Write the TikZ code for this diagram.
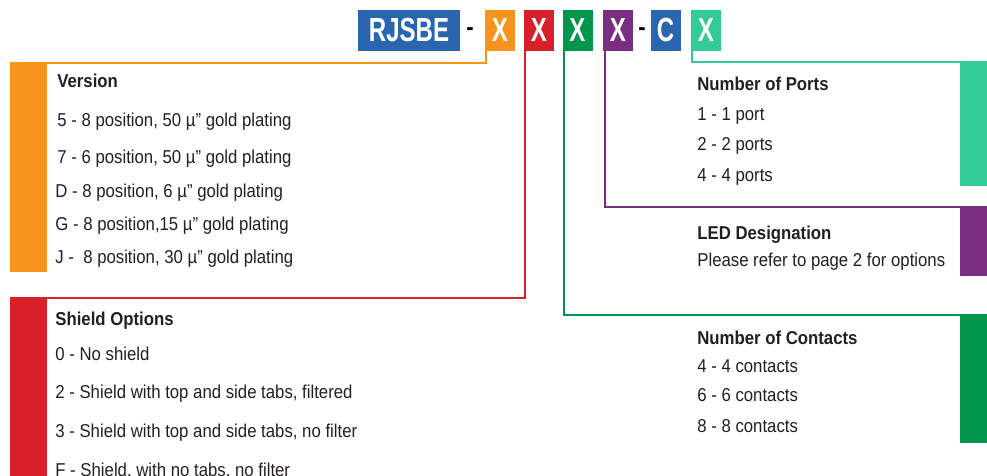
\documentclass[tikz,border=0pt]{standalone}
\usepackage{fontspec}
\setmainfont{Liberation Sans}[FakeStretch=0.9]
\newfontfamily\codefont{Liberation Sans}[FakeStretch=0.72]
\definecolor{cBlue}{HTML}{2A66B0}
\definecolor{cOrange}{HTML}{F7941E}
\definecolor{cRed}{HTML}{D7202A}
\definecolor{cGreen}{HTML}{00964B}
\definecolor{cPurple}{HTML}{7A2E82}
\definecolor{cTeal}{HTML}{33CC99}
\definecolor{cText}{HTML}{231F20}
\begin{document}
\begin{tikzpicture}[
        x=0.02cm, y=-0.02cm,
        codebox/.style={fill=#1, text=white, inner sep=0pt, minimum width=0.6cm, minimum height=0.82cm, font=\codefont\bfseries\fontsize{19}{19}\selectfont},
        dashmark/.style={inner sep=0pt, font=\bfseries\fontsize{14}{14}\selectfont},
        optbar/.style={fill=#1, draw=none, inner sep=0pt},
        legline/.style={draw=#1, line width=1.2pt},
        heading/.style={anchor=base west, inner sep=0pt, text=cText, font=\bfseries\fontsize{10.6}{12}\selectfont},
        entry/.style={anchor=base west, inner sep=0pt, text=cText, font=\fontsize{10.6}{12}\selectfont},
    ]
        \useasboundingbox (0,0) rectangle (987,476);

        % Part number
        \node[codebox=cBlue, minimum width=2.04cm] (base) at (409,30.5) {RJSBE};
        \node[dashmark] (dasha) at (470,32) {-};
        \node[codebox=cOrange] (xver) at (500,30.5) {X};
        \node[codebox=cRed] (xshield) at (539,30.5) {X};
        \node[codebox=cGreen] (xcont) at (577.5,30.5) {X};
        \node[codebox=cPurple] (xled) at (618,30.5) {X};
        \node[dashmark] (dashb) at (642,32) {-};
        \node[codebox=cBlue] (cport) at (665.5,30.5) {C};
        \node[codebox=cTeal] (xport) at (706,30.5) {X};

        % Colour bars
        \node[optbar=cOrange, minimum width=0.74cm, minimum height=4.18cm] (verbar) at (28.5,167.5) {};
        \node[optbar=cRed, minimum width=0.74cm, minimum height=3.64cm] (shieldbar) at (28.5,389) {};
        \node[optbar=cTeal, minimum width=0.54cm, minimum height=2.48cm] (portbar) at (973.5,124) {};
        \node[optbar=cPurple, minimum width=0.54cm, minimum height=1.38cm] (ledbar) at (973.5,241.5) {};
        \node[optbar=cGreen, minimum width=0.54cm, minimum height=2.56cm] (contbar) at (973.5,379) {};

        % Leader lines
        \draw[legline=cOrange] ([xshift=0.02cm]xver.south west) |- (verbar.north west);
        \draw[legline=cRed] ([xshift=0.02cm]xshield.south west) |- (shieldbar.north west);
        \draw[legline=cGreen] ([xshift=0.04cm]xcont.south west) |- (contbar.north east);
        \draw[legline=cPurple] ([xshift=0.04cm]xled.south west) |- (ledbar.north east);
        \draw[legline=cTeal] ([xshift=0.02cm]xport.south west) |- (portbar.north east);

        % Version
        \node[heading] (verhead) at (57,88) {Version};
        \node[entry] (ver5) at (57,127) {5 - 8 position, 50 µ” gold plating};
        \node[entry] (ver7) at (57,164) {7 - 6 position, 50 µ” gold plating};
        \node[entry] (verD) at (55,198) {D - 8 position, 6 µ” gold plating};
        \node[entry] (verG) at (55,231) {G - 8 position,15 µ” gold plating};
        \node[entry] (verJ) at (55,263) {J -\ \ 8 position, 30 µ” gold plating};

        % Shield options
        \node[heading] (shieldhead) at (55,325) {Shield Options};
        \node[entry] (shield0) at (55,360) {0 - No shield};
        \node[entry] (shield2) at (55,398) {2 - Shield with top and side tabs, filtered};
        \node[entry] (shield3) at (55,437) {3 - Shield with top and side tabs, no filter};
        \node[entry] (shieldF) at (55,476) {F - Shield, with no tabs, no filter};

        % Number of ports
        \node[heading] (porthead) at (697,91) {Number of Ports};
        \node[entry] (port1) at (697,121) {1 - 1 port};
        \node[entry] (port2) at (697,151) {2 - 2 ports};
        \node[entry] (port4) at (697,182) {4 - 4 ports};

        % LED designation
        \node[heading] (ledhead) at (697,239) {LED Designation};
        \node[entry] (ledtext) at (697,267) {Please refer to page 2 for options};

        % Number of contacts
        \node[heading] (conthead) at (697,344) {Number of Contacts};
        \node[entry] (cont4) at (697,372) {4 - 4 contacts};
        \node[entry] (cont6) at (697,401) {6 - 6 contacts};
        \node[entry] (cont8) at (697,432) {8 - 8 contacts};
    \end{tikzpicture}
\end{document}
